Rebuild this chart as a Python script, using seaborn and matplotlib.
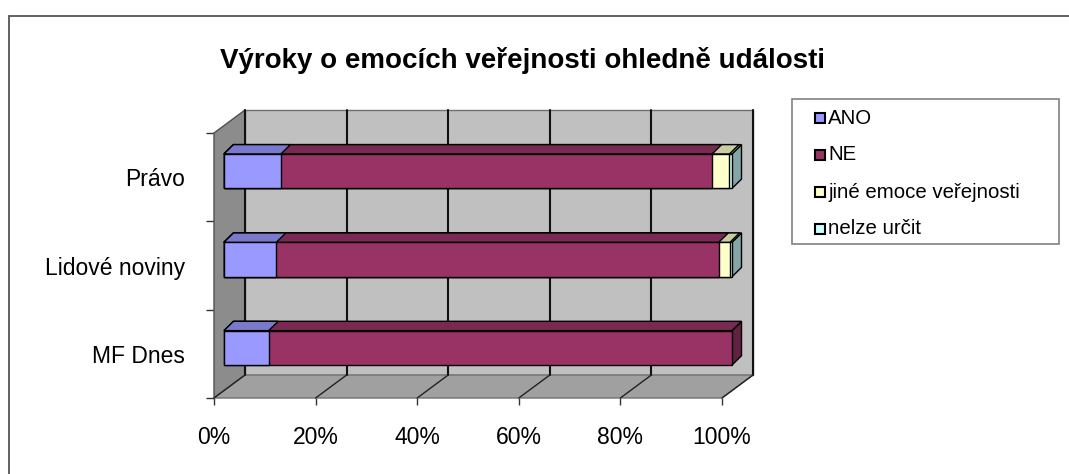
import matplotlib
matplotlib.use("Agg")
import matplotlib.pyplot as plt
import pandas as pd
import seaborn as sns
from matplotlib.patches import Polygon, Rectangle
from matplotlib.lines import Line2D
from matplotlib.transforms import Affine2D, IdentityTransform

sns.set_theme(style="white")
plt.rcParams['font.family'] = ['Liberation Sans', 'DejaVu Sans']

# data (percent of articles)
title = "Výroky o emocích veřejnosti ohledně události"
sources = ["Právo", "Lidové noviny", "MF Dnes"]
series = ["ANO", "NE", "jiné emoce veřejnosti", "nelze určit"]
ano = [11.2, 10.3, 8.8]
ne = [84.9, 87.1, 91.2]
jine = [3.4, 2.2, 0.0]
nelze = [0.5, 0.4, 0.0]
xticks = [0, 20, 40, 60, 80, 100]
xticklabels = ["0%", "20%", "40%", "60%", "80%", "100%"]

colors = ["#9999FF", "#993366", "#FFFFCC", "#CCFFFF"]
shade_top = 0.8
shade_side = 0.65

W, H = 1069, 474
fig = plt.figure(figsize=(W / 100, H / 100), dpi=100)
fig.patch.set_facecolor("white")
# axes = front plane of the 3d box
ax = fig.add_axes([214 / W, 1 - 398 / H, 508 / W, 265 / H])
ax.set_facecolor("none")

values = [ano, ne, jine, nelze]
rows = []
for s, vals in zip(series, values):
    for src, v in zip(sources, vals):
        rows.append({"zdroj": src, "kategorie": s, "hodnota": v})
df = pd.DataFrame(rows)
df["konec"] = df.groupby("zdroj", sort=False)["hodnota"].cumsum()

# stacked bars: largest cumulative first, smaller ones on top
bar_groups = {}
for i in reversed(range(len(series))):
    sub = df[df["kategorie"] == series[i]]
    n0 = len(ax.patches)
    sns.barplot(data=sub, x="konec", y="zdroj", order=sources, color=colors[i],
                saturation=1, width=0.39, errorbar=None, ax=ax,
                edgecolor="black", linewidth=1.0)
    bar_groups[i] = ax.patches[n0:]

ax.set_xlim(0, 100)
ax.set_ylim(2.5, -0.5)
ax.set_xlabel("")
ax.set_ylabel("")
for sp in ax.spines.values():
    sp.set_visible(False)


def disp(x, y):
    return ax.transData.transform((x, y))


def shade(c, f):
    r, g, b = matplotlib.colors.to_rgb(c)
    return (r * f, g * f, b * f)


wall_off = (31, 23)
bar_off = (10, 6)
bar_depth = (9.5, 9.3)
ident = IdentityTransform()


def poly(pts, fc, z, ec="none", lw=0):
    p = Polygon(pts, closed=True, facecolor=fc, edgecolor=ec, linewidth=lw,
                transform=ident, zorder=z, clip_on=False)
    ax.add_artist(p)


def line(p0, p1, c, lw, z):
    ax.add_artist(Line2D([p0[0], p1[0]], [p0[1], p1[1]], color=c, lw=lw,
                         transform=ident, zorder=z, clip_on=False))


def shift(p, off):
    return (p[0] + off[0], p[1] + off[1])


# walls and floor
F00, F10 = disp(0, 2.5), disp(100, 2.5)
F01, F11 = disp(0, -0.5), disp(100, -0.5)
B00, B10, B01, B11 = [shift(p, wall_off) for p in (F00, F10, F01, F11)]
poly([B00, B10, B11, B01], "#C0C0C0", 0.5, "#707070", 1.0)
poly([F00, F01, B01, B00], "#8C8C8C", 0.6, "#505050", 1.0)
poly([F00, F10, B10, B00], "#A0A0A0", 0.6, "#707070", 1.0)
for t in xticks:
    b0 = shift(disp(t, 2.5), wall_off)
    b1 = shift(disp(t, -0.5), wall_off)
    line(b0, b1, "#111111", 1.5, 0.8)
    line(disp(t, 2.5), b0, "#222222", 1.0, 0.8)

# 3d faces of the bars
for i, patches in bar_groups.items():
    for j, p in enumerate(patches):
        if values[i][j] <= 0:
            p.set_visible(False)
            continue
        x0, y0 = p.get_x(), p.get_y()
        x1, y1 = x0 + p.get_width(), y0 + p.get_height()
        a = shift(disp(x0, y0), bar_off)
        b = shift(disp(x1, y1), bar_off)
        xl, xr = min(a[0], b[0]), max(a[0], b[0])
        yb, yt = min(a[1], b[1]), max(a[1], b[1])
        dx, dy = bar_depth
        z = 3 + (3 - i)
        p.set_transform(ax.transData + Affine2D().translate(*bar_off))
        p.set_clip_on(False)
        p.set_zorder(z)
        poly([(xl, yt), (xr, yt), (xr + dx, yt + dy), (xl + dx, yt + dy)],
             shade(colors[i], shade_top), z, "black", 1.0)
        poly([(xr, yb), (xr, yt), (xr + dx, yt + dy), (xr + dx, yb + dy)],
             shade(colors[i], shade_side), 2 + 0.1 * i, "black", 1.0)

# ticks
ax.set_xticks(xticks, xticklabels)
ax.set_yticks(range(len(sources)), sources)
ax.set_yticks([-0.5, 0.5, 1.5, 2.5], minor=True)
ax.tick_params(axis="x", which="major", bottom=True, length=5, width=1,
               color="#333333", pad=15, labelsize=16.5, labelcolor="black")
ax.tick_params(axis="y", which="major", left=False, length=0, pad=21,
               labelsize=16.5, labelcolor="black")
ax.tick_params(axis="y", which="minor", left=True, length=6, width=1,
               color="#333333")

fig.text(522 / W, 1 - 60 / H, title, ha="center", va="center",
         fontsize=20, fontweight="bold", color="black")

# legend box
fig.add_artist(Rectangle((792, H - 244), 267, 145, transform=ident,
                         facecolor="white", edgecolor="#808080", lw=1.2,
                         zorder=1))
for k, (s, c) in enumerate(zip(series, colors)):
    yc = H - (118 + k * 37)
    fig.add_artist(Rectangle((815, yc - 5), 10, 10, transform=ident,
                             facecolor=c, edgecolor="black", lw=1.5, zorder=2))
    fig.text(828 / W, yc / H, s, ha="left", va="center", fontsize=14.7,
             color="black")

# chart border (top and left visible)
fig.add_artist(Line2D([9, W], [H - 16, H - 16], color="#555555", lw=1.3,
                      transform=ident))
fig.add_artist(Line2D([9, 9], [H - 16, 0], color="#555555", lw=1.3,
                      transform=ident))

fig.savefig("out.png", dpi=100)
